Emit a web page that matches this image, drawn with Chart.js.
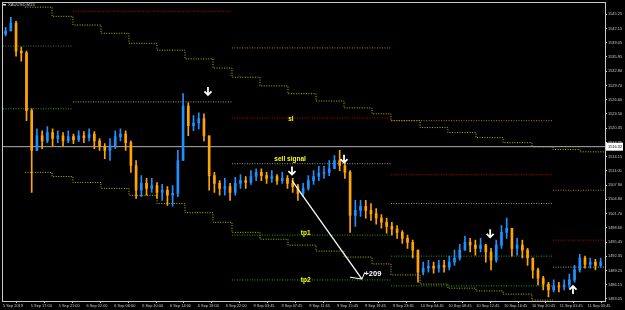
<!DOCTYPE html>
<html><head><meta charset="utf-8">
<script src="https://cdn.jsdelivr.net/npm/chart.js@4.4.1/dist/chart.umd.min.js"></script>
<style>html,body{margin:0;padding:0;background:#000;}canvas{display:block}</style>
</head><body>
<canvas id="c" width="625" height="310"></canvas>
<script>
const chartTitle = 'XAUUSD,M15';
const xTickLabels = ['5 Sep 2019','5 Sep 17:00','5 Sep 21:00','6 Sep 02:00','6 Sep 06:00','6 Sep 10:00','6 Sep 14:00','6 Sep 18:00','6 Sep 22:00','9 Sep 03:45','9 Sep 07:45','9 Sep 11:45','9 Sep 15:45','9 Sep 19:45','9 Sep 23:45','10 Sep 04:45','10 Sep 08:45','10 Sep 12:45','10 Sep 16:45','10 Sep 20:45','11 Sep 01:45','11 Sep 05:45'];
const yTickValues = [1545.25,1542.15,1539.05,1535.95,1532.80,1529.70,1526.60,1523.50,1520.35,1517.25,1514.15,1511.05,1507.90,1504.80,1501.70,1498.60,1495.45,1492.35,1489.25,1486.15,1483.05];
const barsPerCandle = 3;   // each drawn candle spans 45 minutes (3 x M15 bars)
const barsPerTick = 16;
const totalBars = 346;

const opens = [1540.9,1541.6,1543.3,1537.2,1536.8,1524.2,1515.5,1518.7,1517.6,1519.4,
1518.1,1518.7,1517.6,1518.5,1517.8,1518.7,1518.3,1519.1,1517.6,1516.3,
1515.5,1516.5,1518.5,1519.1,1517.2,1512.2,1506.8,1508.3,1507.2,1507.8,
1506.3,1506.8,1505.7,1506.1,1513.3,1525.2,1520.9,1521.5,1522.4,1518.7,
1510.0,1508.3,1507.2,1507.6,1506.3,1508.3,1508.9,1508.5,1509.8,1510.7,
1510.0,1509.4,1509.8,1508.9,1509.4,1508.3,1507.6,1506.1,1507.2,1508.9,
1509.8,1510.5,1510.7,1511.5,1513.3,1512.2,1510.7,1501.3,1502.4,1503.3,
1502.4,1501.7,1500.7,1499.8,1498.9,1498.3,1497.6,1496.3,1495.4,1493.7,
1488.9,1489.8,1490.2,1489.8,1490.4,1490.0,1491.1,1492.0,1493.7,1495.4,
1494.8,1494.1,1494.8,1493.3,1491.5,1494.8,1497.6,1498.5,1494.1,1494.8,
1493.7,1492.0,1489.4,1487.6,1486.3,1485.0,1485.9,1485.7,1486.1,1487.2,
1489.4,1492.0,1490.6,1491.1,1490.4];
const highs = [1542.4,1544.6,1543.7,1538.1,1537.2,1524.6,1520.2,1519.8,1520.7,1520.2,
1519.8,1519.4,1519.8,1519.1,1519.8,1519.6,1520.2,1519.6,1518.1,1517.0,
1518.1,1519.8,1520.2,1519.8,1517.6,1513.3,1510.0,1509.4,1509.4,1508.5,
1508.1,1507.6,1507.8,1515.5,1527.9,1525.9,1523.1,1523.7,1523.5,1518.7,
1510.7,1508.9,1509.4,1508.3,1509.6,1510.2,1509.8,1511.1,1511.5,1511.5,
1510.7,1511.1,1510.2,1510.7,1510.0,1509.4,1508.1,1508.3,1510.0,1511.1,
1512.0,1512.0,1513.3,1514.4,1515.5,1513.3,1511.1,1504.6,1504.6,1504.6,
1503.9,1502.8,1501.5,1500.7,1499.8,1499.1,1498.0,1497.0,1495.9,1493.7,
1491.1,1491.5,1491.1,1491.5,1491.5,1492.4,1493.7,1495.0,1496.8,1496.3,
1495.9,1496.3,1495.0,1494.1,1495.9,1499.1,1500.7,1498.5,1496.3,1495.9,
1494.1,1492.0,1489.8,1488.0,1486.7,1487.2,1486.7,1487.2,1488.5,1490.4,
1492.8,1492.4,1492.0,1491.7,1492.0];
const lows = [1540.5,1541.6,1536.1,1535.0,1522.0,1506.3,1515.5,1515.9,1517.2,1516.5,
1517.2,1516.5,1517.2,1517.0,1517.4,1517.2,1517.6,1515.9,1515.5,1513.7,
1513.3,1515.9,1517.6,1515.5,1510.7,1505.0,1505.4,1505.7,1506.3,1505.0,
1504.6,1503.5,1503.3,1505.4,1513.3,1518.7,1519.8,1520.2,1517.6,1506.8,
1506.3,1505.7,1505.7,1504.6,1505.7,1507.2,1507.2,1508.1,1508.9,1508.9,
1508.3,1508.5,1508.1,1508.3,1507.2,1506.3,1504.6,1505.4,1506.8,1508.1,
1508.9,1509.4,1510.0,1511.5,1511.1,1509.4,1497.6,1498.9,1501.1,1500.7,
1500.2,1499.4,1498.5,1497.4,1497.0,1496.3,1495.2,1494.1,1492.0,1486.7,
1488.3,1488.9,1488.7,1488.9,1488.9,1489.4,1490.4,1491.5,1493.7,1493.3,
1492.6,1493.3,1491.1,1489.4,1491.1,1494.1,1496.3,1492.4,1492.6,1492.0,
1490.4,1487.6,1486.1,1485.0,1483.5,1484.6,1484.6,1485.0,1485.4,1486.7,
1488.9,1489.8,1489.8,1489.4,1490.0];
const closes = [1541.6,1543.3,1537.2,1536.8,1524.2,1515.5,1518.7,1517.6,1519.4,1518.1,
1518.7,1517.6,1518.5,1517.8,1518.7,1518.3,1519.1,1517.6,1516.3,1515.5,
1516.5,1518.5,1519.1,1517.2,1512.2,1506.8,1508.3,1507.2,1507.8,1506.3,
1506.8,1505.7,1506.1,1513.3,1525.2,1520.9,1521.5,1522.4,1518.7,1510.0,
1508.3,1507.2,1507.6,1506.3,1508.3,1508.9,1508.5,1509.8,1510.7,1510.0,
1509.4,1509.8,1508.9,1509.4,1508.3,1507.6,1506.1,1507.2,1508.9,1509.8,
1510.5,1510.7,1511.5,1513.3,1512.2,1510.7,1501.3,1502.4,1503.3,1502.4,
1501.7,1500.7,1499.8,1498.9,1498.3,1497.6,1496.3,1495.4,1493.7,1488.9,
1489.8,1490.2,1489.8,1490.4,1490.0,1491.1,1492.0,1493.7,1495.4,1494.8,
1494.1,1494.8,1493.3,1491.5,1494.8,1497.6,1498.5,1494.1,1494.8,1493.7,
1492.0,1489.4,1487.6,1486.3,1485.0,1485.9,1485.7,1486.1,1487.2,1489.4,
1492.0,1490.6,1491.1,1490.4,1491.1];

// horizontal signal levels (bar index from/to, price, kind)
const levelFrom  = [0,0, 40.2,40.2, 131.6,131.6,131.6,131.6,131.6, 223,223,223,223,223, 316.1,316.1,316.1];
const levelTo    = [40.2,40.2, 131.6,131.6, 223,223,223,223,223, 316.1,316.1,316.1,316.1,316.1, 346,346,346];
const levelPrice = [1538.3,1524.6, 1545.9,1526.1, 1537.9,1522.6,1512.6,1497.0,1487.2, 1522.0,1510.2,1503.9,1492.4,1485.9, 1506.8,1495.9,1490.0];
const levelKind  = ['teal','green', 'red','gray', 'orange','red','gray','green','green', 'orange','red','gray','green','green', 'orange','red','gray'];

// stepped envelope lines
const stairBars  = [12.6,28.2,40.2,56.3,72.4,88.5,104.6,120.7,131.6,147.7,163.8,179.9,196.0,212.1,223.0,239.7,255.7,271.8,287.4,304.0,316.1,331.6,346];
const upperStair = [1546.8,1544.8,1542.9,1541.1,1538.9,1537.4,1535.5,1533.5,1531.5,1529.6,1527.9,1526.3,1524.8,1523.5,1522.0,1520.5,1519.4,1518.3,1517.2,1516.3,1515.7,1515.2,1515.2];
const lowerStair = [1510.7,1509.8,1508.5,1507.2,1505.7,1503.9,1501.9,1499.8,1497.6,1496.1,1494.8,1493.5,1492.2,1490.7,1488.3,1486.3,1485.4,1484.8,1484.1,1482.8,1482.8];

const currentPrice = 1516.32;

// signal arrows
const arrowBar   = [117.8,166.1,196.0,280.0,327.6];
const arrowPrice = [1528.5,1511.1,1513.7,1497.4,1485.0];
const arrowDir   = ['down','down','down','down','up'];

// annotation texts
const noteText  = ['sl','sell signal','tp1','tp2','+209'];
const noteBar   = [165.5,165.0,174.0,174.0,212.6];
const notePrice = [1522.4,1513.5,1497.4,1487.2,1488.5];
const noteColor = ['#ffff00','#ffff00','#ffff00','#ffff00','#ffffff'];

// trade path (entry -> exit) and exit tick
const tradeBars   = [166.1,206.3];
const tradePrices = [1508.9,1487.4];
const tickBars    = [199.4,206.3,208.0];
const tickPrices  = [1487.8,1487.4,1488.9];

const kindColor = {teal:'#2f6f5f', green:'#1aa01a', red:'#c00000', gray:'#9a9a9a', orange:'#c07800'};
const UP='#1e90ff', DN='#ffa500';

const candleX = closes.map((_, i) => i * barsPerCandle + barsPerCandle / 2);
const candleCol = closes.map((c, i) => c >= opens[i] ? UP : DN);

const datasets = [];
datasets.push({type:'bar', data: candleX.map((x,i)=>({x, y:[lows[i], highs[i]]})), backgroundColor: candleCol, barThickness:1, grouped:false, order:2});
datasets.push({type:'bar', data: candleX.map((x,i)=>({x, y:[opens[i], closes[i]]})), backgroundColor: candleCol, barThickness:2, grouped:false, order:1, minBarLength:1});
levelPrice.forEach((p,i)=>{
  datasets.push({type:'line', data:[{x:levelFrom[i],y:p},{x:levelTo[i],y:p}], borderColor:kindColor[levelKind[i]], borderWidth:1, borderDash:[1,1.5], pointRadius:0, order:5});
});
datasets.push({type:'line', data: stairBars.map((x,i)=>({x, y:upperStair[i]})), stepped:true, borderColor:'#b8b800', borderWidth:1, borderDash:[1,1.5], pointRadius:0, order:5});
datasets.push({type:'line', data: lowerStair.map((p,i)=>({x:stairBars[i], y:p})), stepped:true, borderColor:'#b8b800', borderWidth:1, borderDash:[1,1.5], pointRadius:0, order:5});
datasets.push({type:'line', data:[{x:0,y:currentPrice},{x:totalBars,y:currentPrice}], borderColor:'#b0b0b0', borderWidth:1, pointRadius:0, order:4});
datasets.push({type:'line', data: tradeBars.map((x,i)=>({x,y:tradePrices[i]})), borderColor:'#ffffff', borderWidth:1.3, pointRadius:0, order:0});
datasets.push({type:'line', data: tickBars.map((x,i)=>({x,y:tickPrices[i]})), borderColor:'#ffffff', borderWidth:1, pointRadius:0, order:0});

const FONT = 'Liberation Sans';
const overlay = {
  id:'overlay',
  beforeDraw(chart){
    const {ctx} = chart; ctx.save(); ctx.fillStyle='#000'; ctx.fillRect(0,0,chart.width,chart.height); ctx.restore();
  },
  afterDraw(chart){
    const {ctx, chartArea:a, scales:{x,y}} = chart;
    ctx.save();
    ctx.strokeStyle='#c8c8c8'; ctx.lineWidth=1;
    ctx.strokeRect(Math.round(a.left)-0.5, Math.round(a.top)-0.5, Math.round(a.right-a.left)+1, Math.round(a.bottom-a.top)+1);
    ctx.strokeStyle='#ffffff'; ctx.fillStyle='#ffffff'; ctx.lineWidth=1.8; ctx.lineCap='butt';
    arrowBar.forEach((b,i)=>{
      const px=x.getPixelForValue(b), py=y.getPixelForValue(arrowPrice[i]);
      const s = arrowDir[i]==='down'?1:-1;
      ctx.beginPath(); ctx.moveTo(px, py-4*s); ctx.lineTo(px, py+4*s); ctx.stroke();
      ctx.beginPath(); ctx.moveTo(px-3.5, py+0.5*s); ctx.lineTo(px, py+4*s); ctx.lineTo(px+3.5, py+0.5*s); ctx.stroke();
    });
    ctx.textBaseline='middle'; ctx.textAlign='center';
    noteText.forEach((t,i)=>{
      ctx.font = (t==='+209' ? 'bold 7.5px ' : 'bold 6.5px ') + FONT;
      ctx.fillStyle = noteColor[i];
      ctx.fillText(t, x.getPixelForValue(noteBar[i]), y.getPixelForValue(notePrice[i]));
    });
    ctx.fillStyle='#e0e0e0'; ctx.fillRect(3,4,3,1.5);
    ctx.font='4.2px '+FONT; ctx.textAlign='left'; ctx.fillStyle='#c8c8c8';
    ctx.fillText(chartTitle, 8, 5);
    const cy = y.getPixelForValue(currentPrice);
    ctx.fillStyle='#ffffff'; ctx.fillRect(a.right+1, cy-4, 17, 8);
    ctx.fillStyle='#000'; ctx.font='3.9px '+FONT; ctx.textAlign='left';
    ctx.fillText(currentPrice.toFixed(2), a.right+3, cy);
    ctx.restore();
  }
};

new Chart(document.getElementById('c'), {
  type:'bar',
  data:{datasets},
  options:{
    responsive:false, devicePixelRatio:1, animation:false,
    layout:{padding:{left:3, top:2, right:0, bottom:0}},
    plugins:{legend:{display:false}, tooltip:{enabled:false}},
    scales:{
      x:{type:'linear', min:0, max:totalBars, offset:false,
        afterBuildTicks:s=>{ s.ticks = xTickLabels.map((l,i)=>({value:i*barsPerTick})); },
        afterFit:s=>{ s.height = 9; },
        ticks:{color:'#c8c8c8', font:{family:FONT, size:3.9}, align:'start', padding:1, maxRotation:0, autoSkip:false, callback:(v,i)=>xTickLabels[i]},
        grid:{drawOnChartArea:false, tickLength:2, color:'#c8c8c8'},
        border:{display:true, color:'#c8c8c8'}
      },
      y:{type:'linear', position:'right', min:1482.6, max:1547.64,
        afterBuildTicks:s=>{ s.ticks = yTickValues.map(v=>({value:v})); },
        afterFit:s=>{ s.width = 20; },
        ticks:{color:'#c8c8c8', font:{family:FONT, size:3.9}, padding:1, callback:v=>v.toFixed(2)},
        grid:{drawOnChartArea:false, tickLength:2, color:'#c8c8c8'},
        border:{display:true, color:'#c8c8c8'}
      }
    }
  },
  plugins:[overlay]
});
</script>
</body></html>
